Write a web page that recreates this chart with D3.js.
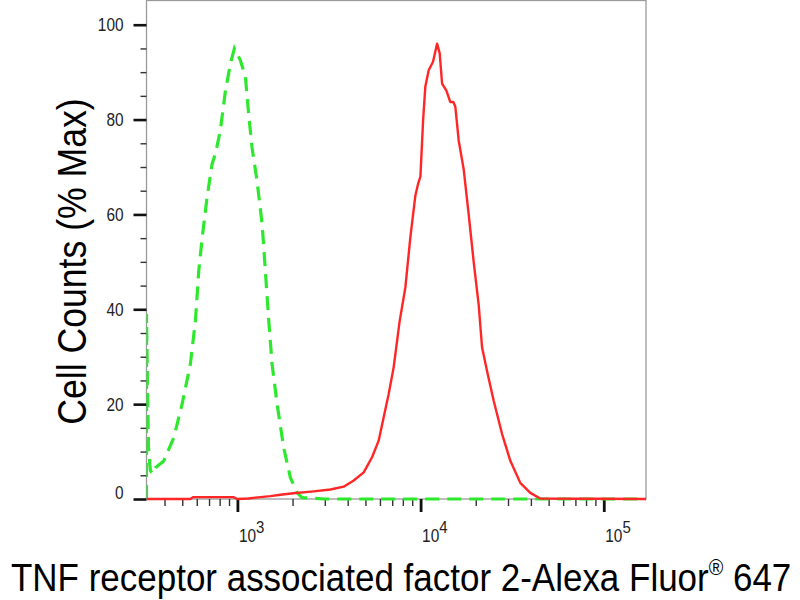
<!DOCTYPE html>
<html>
<head>
<meta charset="utf-8">
<script src="https://cdn.jsdelivr.net/npm/d3@7"></script>
<style>
  body { margin: 0; background: #fff; }
  svg { display: block; font-family: Arial, "Liberation Sans", sans-serif; }
</style>
</head>
<body>
<div id="chart"></div>
<script>
// green dashed = isotype control, red = stained sample
const controlX = [319, 319, 323, 327, 335, 344, 357, 396, 449, 499, 554, 590, 615, 642, 683,
  728, 759, 807, 860, 916, 963, 1038, 1106, 1153, 1203, 1281, 1364, 1422, 1483, 1546,
  1647, 1790, 1947, 2118, 2256, 3000, 170000];
const controlY = [0, 39, 24, 11, 6, 5.3, 6.6, 8, 12.9, 20, 28.5, 37.6, 48, 55, 63.6,
  70.7, 72.8, 77.7, 86, 91.8, 95, 92.5, 89, 81, 74, 67, 58, 48, 37.6, 28.5,
  20, 10.8, 4.5, 1.3, 0.3, 0, 0];

const stainX = [319, 554, 575, 951, 1000, 1150, 1254, 1514, 1717, 2022, 2608, 3219, 3805, 4314, 4891,
  5433, 5904, 6284, 6691, 7124, 7686, 8257, 8795, 9367, 9700, 9977, 10320, 10610, 11070, 11690,
  12300, 12710, 13100, 13830, 14530, 15100, 15480, 16140, 17190, 18300, 19490, 20750, 21650, 23050, 25060,
  27850, 30930, 35020, 39700, 45000, 170000];
const stainY = [0, 0, 0.4, 0.4, 0, 0.1, 0.3, 0.6, 0.9, 1.2, 1.6, 2.0, 2.6, 3.9, 5.6,
  8.8, 12.3, 17.2, 22.1, 27.7, 37.5, 44.6, 55.2, 64, 66.5, 68, 79.8, 86.9, 90.4, 92.2,
  96, 94, 87.6, 86.1, 83.7, 83.7, 82.7, 75.6, 69.5, 60, 50, 41, 32, 27, 20.7,
  13.7, 8, 3.4, 1.3, 0.1, 0];

const yMajorTicks = [0, 20, 40, 60, 80, 100];
const xDecades = [1000, 10000, 100000];
const xExponents = ["3", "4", "5"];
const xTitle = "TNF receptor associated factor 2-Alexa Fluor";
const xTitleMark = "\u00AE";
const xTitleEnd = " 647";
const yTitle = "Cell Counts (% Max)";

const W = 800, H = 600;
const plot = { left: 146.5, right: 646, top: 0.5, bottom: 499 };

const svg = d3.select("#chart").append("svg")
  .attr("width", W).attr("height", H);

const x = d3.scaleLog().domain([319, 170000]).range([plot.left, plot.right]);
const y = d3.scaleLinear().domain([0, 105]).range([plot.bottom, 1]);

// frame
svg.append("rect")
  .attr("x", plot.left).attr("y", plot.top)
  .attr("width", plot.right - plot.left).attr("height", plot.bottom - plot.top)
  .attr("fill", "none").attr("stroke", "#9a9a9a").attr("stroke-width", 1.3);

// y axis
const yMinor = d3.range(0, 101, 5).filter(v => v % 20 !== 0);
const gyMinor = svg.append("g")
  .attr("transform", "translate(" + plot.left + ",0)")
  .call(d3.axisLeft(y).tickValues(yMinor).tickSize(6).tickFormat(""));
gyMinor.select(".domain").remove();
gyMinor.selectAll("line").attr("stroke", "#333").attr("stroke-width", 1.4);

const gyMajor = svg.append("g")
  .attr("transform", "translate(" + plot.left + ",0)")
  .call(d3.axisLeft(y).tickValues(yMajorTicks).tickSize(13));
gyMajor.select(".domain").remove();
gyMajor.attr("font-size", 17).attr("font-family", "Arial, 'Liberation Sans', sans-serif");
gyMajor.selectAll("line").attr("stroke", "#111").attr("stroke-width", 2.6);
gyMajor.selectAll(".tick text")
  .attr("x", 0).attr("dy", null).attr("y", 6)
  .attr("fill", "#222")
  .attr("font-size", 17.5)
  .attr("transform", function (d) {
    return "translate(-23," + (d === 0 ? -7 : 0) + ") scale(0.88,1)";
  });

// x axis
const xMinor = [];
[100, 1000, 10000, 100000].forEach(function (d) {
  for (let k = 2; k <= 9; k++) {
    const v = d * k;
    if (v > x.domain()[0] && v < x.domain()[1]) xMinor.push(v);
  }
});
const gxMinor = svg.append("g")
  .attr("transform", "translate(0," + plot.bottom + ")")
  .call(d3.axisBottom(x).tickValues(xMinor).tickSize(7).tickFormat(""));
gxMinor.select(".domain").remove();
gxMinor.selectAll("line").attr("stroke", "#333").attr("stroke-width", 1.4);

const gxMajor = svg.append("g")
  .attr("transform", "translate(0," + plot.bottom + ")")
  .call(d3.axisBottom(x).tickValues(xDecades).tickSize(13).tickFormat(""));
gxMajor.select(".domain").remove();
gxMajor.selectAll("line").attr("stroke", "#111").attr("stroke-width", 2.8);
gxMajor.selectAll(".tick text").remove();
gxMajor.selectAll(".tick").each(function (d, i) {
  const t = d3.select(this).append("text")
    .attr("transform", "translate(1,43) scale(0.88,1)")
    .attr("text-anchor", "start")
    .attr("fill", "#222")
    .attr("font-size", 17.5);
  t.append("tspan").text("10");
  t.append("tspan").attr("dy", -9).attr("font-size", 17).text(xExponents[i]);
});

// curves
svg.append("clipPath").attr("id", "clip")
  .append("rect")
  .attr("x", plot.left).attr("y", 0)
  .attr("width", plot.right - plot.left).attr("height", plot.bottom + 2);

const line = d3.line()
  .x(function (d) { return x(d[0]); })
  .y(function (d) { return y(d[1]); });

const controlData = controlX.map(function (v, i) { return [v, controlY[i]]; });
const stainData = stainX.map(function (v, i) { return [v, stainY[i]]; });

svg.append("path")
  .datum(controlData)
  .attr("clip-path", "url(#clip)")
  .attr("d", line)
  .attr("fill", "none")
  .attr("stroke", "#2ee82e")
  .attr("stroke-width", 3.2)
  .attr("stroke-dasharray", "14,8");

svg.append("path")
  .datum(stainData)
  .attr("clip-path", "url(#clip)")
  .attr("d", line)
  .attr("fill", "none")
  .attr("stroke", "#ff2626")
  .attr("stroke-width", 2.4)
  .attr("stroke-linejoin", "round");

// titles
svg.append("text")
  .attr("transform", "translate(86,261.5) rotate(-90) scale(0.89,1)")
  .attr("text-anchor", "middle")
  .attr("fill", "#000")
  .attr("font-size", 40)
  .text(yTitle);

const xt = svg.append("text")
  .attr("transform", "translate(11,591) scale(0.897,1)")
  .attr("text-anchor", "start")
  .attr("fill", "#000")
  .attr("font-size", 39);
xt.append("tspan").text(xTitle);
xt.append("tspan").attr("dy", -16).attr("font-size", 22).text(xTitleMark);
xt.append("tspan").attr("dy", 16).text(xTitleEnd);
</script>
</body>
</html>
